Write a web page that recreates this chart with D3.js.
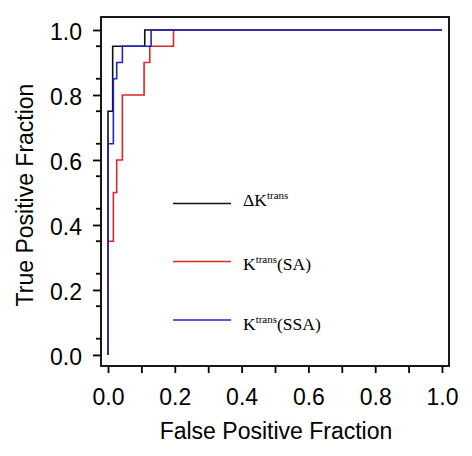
<!DOCTYPE html>
<html><head><meta charset="utf-8">
<script src="https://cdn.jsdelivr.net/npm/d3@7"></script>
<style>body{margin:0;background:#fff}</style>
</head><body>
<svg id="c" width="472" height="456"></svg>
<script>
// ROC curve corner points
const seriesNames = ["ΔK", "K", "K"];
const seriesSuffix = ["", "(SA)", "(SSA)"];
const seriesColors = ["#111111", "#d62828", "#2323c4"];
const fprDelta = [0, 0, 0.014, 0.014, 0.11, 0.11, 1];
const tprDelta = [0, 0.75, 0.75, 0.95, 0.95, 1, 1];
const fprSA = [0, 0, 0.016, 0.016, 0.026, 0.026, 0.043, 0.043, 0.108, 0.108, 0.125, 0.125, 0.196, 0.196, 1];
const tprSA = [0, 0.35, 0.35, 0.5, 0.5, 0.6, 0.6, 0.8, 0.8, 0.9, 0.9, 0.95, 0.95, 1, 1];
const fprSSA = [0, 0, 0.016, 0.016, 0.026, 0.026, 0.043, 0.043, 0.129, 0.129, 1];
const tprSSA = [0, 0.65, 0.65, 0.85, 0.85, 0.9, 0.9, 0.95, 0.95, 1, 1];
const xTickLabels = [0, 0.2, 0.4, 0.6, 0.8, 1.0];
const yTickLabels = [0, 0.2, 0.4, 0.6, 0.8, 1.0];

const series = [
  {fpr: fprDelta, tpr: tprDelta},
  {fpr: fprSA, tpr: tprSA},
  {fpr: fprSSA, tpr: tprSSA}
];

const svg = d3.select("#c");
const L = 101, R = 449, T = 17, B = 366;
const x = d3.scaleLinear().domain([-0.021, 1.021]).range([L, R]);
const y = d3.scaleLinear().domain([-0.034, 1.04]).range([B, T]);
const sans = "'Liberation Sans', Arial, Helvetica, sans-serif";
const serif = "'Liberation Serif', 'Times New Roman', serif";

// curves
const line = d3.line().x(d => x(d[0])).y(d => y(d[1]));
series.forEach((s, i) => {
  const pts = s.fpr.map((f, j) => [f, s.tpr[j]]);
  svg.append("path").attr("d", line(pts)).attr("fill", "none")
    .attr("stroke", seriesColors[i]).attr("stroke-width", 1.6);
});

// frame
svg.append("rect").attr("x", L).attr("y", T).attr("width", R - L).attr("height", B - T)
  .attr("fill", "none").attr("stroke", "#000").attr("stroke-width", 1.8);

// x axis
const xAxis = d3.axisBottom(x).tickValues(d3.range(0, 1.0001, 0.1)).tickSize(7)
  .tickFormat(d => xTickLabels.some(v => Math.abs(v - d) < 1e-6) ? d3.format(".1f")(d) : "");
const gx = svg.append("g").attr("transform", `translate(0,${B})`).call(xAxis);
gx.select(".domain").remove();
gx.selectAll(".tick line").attr("stroke", "#000").attr("stroke-width", 1.8);
gx.selectAll(".tick text").attr("font-family", sans).attr("font-size", 23).attr("fill", "#000")
  .attr("y", 39).attr("dy", 0);

// y axis major
const yAxis = d3.axisLeft(y).tickValues(yTickLabels).tickSize(8).tickPadding(11).tickFormat(d3.format(".1f"));
const gy = svg.append("g").attr("transform", `translate(${L},0)`).call(yAxis);
gy.select(".domain").remove();
gy.selectAll(".tick line").attr("stroke", "#000").attr("stroke-width", 1.8);
gy.selectAll(".tick text").attr("font-family", sans).attr("font-size", 23).attr("fill", "#000")
  .attr("dy", "0.4em");
// y minor
const yMinor = d3.range(0.05, 1, 0.1);
svg.append("g").selectAll("line").data(yMinor).join("line")
  .attr("x1", L - 5).attr("x2", L).attr("y1", d => y(d)).attr("y2", d => y(d))
  .attr("stroke", "#000").attr("stroke-width", 1.8);

// axis titles
svg.append("text").attr("x", 276).attr("y", 439).attr("text-anchor", "middle")
  .attr("font-family", sans).attr("font-size", 23).text("False Positive Fraction");
svg.append("text").attr("transform", `translate(33,195) rotate(-90)`)
  .attr("text-anchor", "middle").attr("font-family", sans).attr("font-size", 23).text("True Positive Fraction");

// legend
const legY = [203.5, 261.5, 320];
const legBase = [206, 270, 330];
series.forEach((s, i) => {
  svg.append("line").attr("x1", 173).attr("x2", 231).attr("y1", legY[i]).attr("y2", legY[i])
    .attr("stroke", seriesColors[i]).attr("stroke-width", 1.6);
  const t = svg.append("text").attr("x", 243).attr("y", legBase[i])
    .attr("font-family", serif).attr("font-size", 17.5).attr("fill", "#000");
  t.append("tspan").text(seriesNames[i]);
  t.append("tspan").attr("font-size", 11).attr("dy", -7).text("trans");
  if (seriesSuffix[i]) t.append("tspan").attr("dy", 7).text(seriesSuffix[i]);
});
</script>
</body></html>
